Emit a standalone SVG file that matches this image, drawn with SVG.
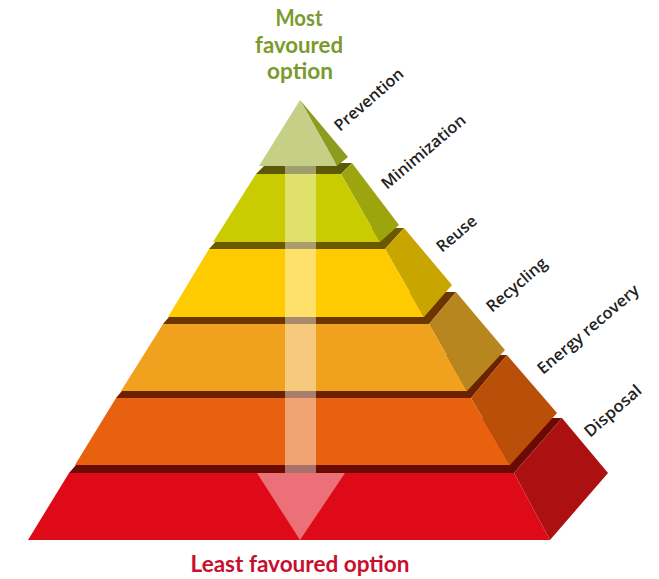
<svg xmlns="http://www.w3.org/2000/svg" width="659" height="579" viewBox="0 0 659 579">
<style>
.lbl{font-family:"Open Sans","DejaVu Sans",sans-serif;font-weight:600;font-size:16px;fill:#222222}
.top{font-family:Lato,"Open Sans",sans-serif;font-weight:bold;font-size:23px;fill:#7b9a2c;text-anchor:middle}
.bot{font-family:Lato,"Open Sans",sans-serif;font-weight:bold;font-size:22px;fill:#c8102e;text-anchor:middle}
.ov{fill:#ffffff;fill-opacity:0.42}
</style>
<rect width="659" height="579" fill="#ffffff"/>
<g id="tier-disposal">
<polygon points="69,473 514,473 562,418 117,418" fill="#690b02"/>
<polygon points="514,473 562,418 608,473 550,540" fill="#ad1010"/>
<polygon points="69,473 514,473 550,540 28,540" fill="#df0a17"/>
</g>
<g id="tier-energy">
<polygon points="116,398 471,398 507,355 152,355" fill="#6a2200"/>
<polygon points="471,398 507,355 557,413 510,465" fill="#b94f08"/>
<polygon points="116,398 471,398 510,465 75,465" fill="#e8610e"/>
</g>
<g id="tier-recycling">
<polygon points="163,324 429,324 456,292 190,292" fill="#6b3600"/>
<polygon points="429,324 456,292 505,350 467,391" fill="#b8861f"/>
<polygon points="163,324 429,324 467,391 121,391" fill="#f0a21e"/>
</g>
<g id="tier-reuse">
<polygon points="209,249 385,249 404,228 228,228" fill="#6b5800"/>
<polygon points="385,249 404,228 452,285 424,317" fill="#c9a500"/>
<polygon points="209,249 385,249 424,317 168,317" fill="#fdcb00"/>
</g>
<g id="tier-minimization">
<polygon points="256,174 341,174 352,163 267,163" fill="#5b5908"/>
<polygon points="341,174 352,163 399,225 380,242" fill="#9ca50e"/>
<polygon points="256,174 341,174 380,242 213,242" fill="#c8cc00"/>
</g>
<g id="tier-prevention">
<polygon points="300,100 348,157 337,166" fill="#8c9c1e"/>
<polygon points="300,100 337,166 259,166" fill="#c5cf85"/>
</g>
<g id="connectors">
<rect class="ov" x="285" y="166" width="31" height="307"/>
<polygon class="ov" points="257,473 345,473 300,540"/>
</g>
<g id="labels">
<text class="top" x="299" y="26" textLength="47" lengthAdjust="spacingAndGlyphs">Most</text>
<text class="top" x="299" y="53" textLength="88" lengthAdjust="spacingAndGlyphs">favoured</text>
<text class="top" x="300" y="79" textLength="66" lengthAdjust="spacingAndGlyphs">option</text>
<text class="bot" x="300" y="572" textLength="219" lengthAdjust="spacingAndGlyphs">Least favoured option</text>
<text class="lbl" transform="translate(340,132) rotate(-41)" textLength="86" lengthAdjust="spacingAndGlyphs">Prevention</text>
<text class="lbl" transform="translate(387,190) rotate(-40.4)" textLength="105" lengthAdjust="spacingAndGlyphs">Minimization</text>
<text class="lbl" transform="translate(442,253) rotate(-40)" textLength="47" lengthAdjust="spacingAndGlyphs">Reuse</text>
<text class="lbl" transform="translate(492,313) rotate(-40.5)" textLength="74" lengthAdjust="spacingAndGlyphs">Recycling</text>
<text class="lbl" transform="translate(543,375) rotate(-40.5)" textLength="128" lengthAdjust="spacingAndGlyphs">Energy recovery</text>
<text class="lbl" transform="translate(590,438) rotate(-41)" textLength="70" lengthAdjust="spacingAndGlyphs">Disposal</text>
</g>
</svg>
